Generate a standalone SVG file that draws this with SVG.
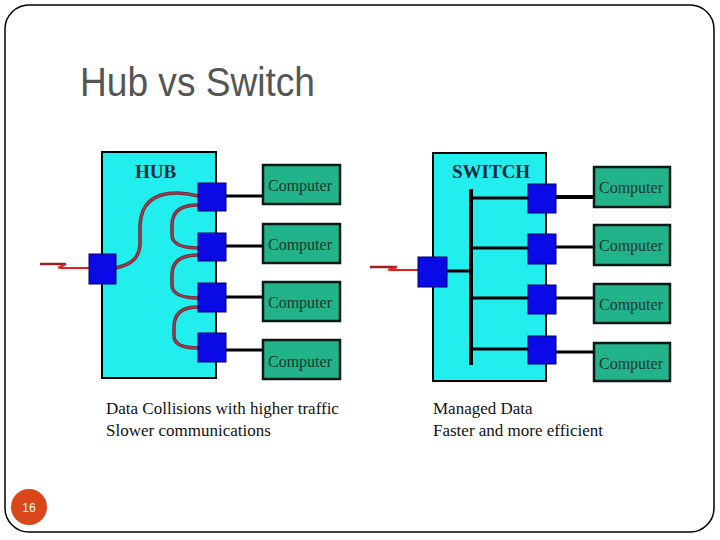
<svg xmlns="http://www.w3.org/2000/svg" width="720" height="540" viewBox="0 0 720 540">
<style>
.box{fill:#22eeee;stroke:#000;stroke-width:2}
.port{fill:#0a0ae6;stroke:#00006a;stroke-width:1}
.pc{fill:#22b38a;stroke:#0a1a14;stroke-width:2.5}
.pct{font-family:"Liberation Serif",serif;font-size:16px;fill:#173a2e}
.lbl{font-family:"Liberation Serif",serif;font-size:19px;font-weight:bold;fill:#0d2b3a}
.cap{font-family:"Liberation Serif",serif;font-size:17px;fill:#111}
.wire{stroke:#000;stroke-width:3;fill:none}
.bus{stroke:#000;stroke-width:4;fill:none}
.curve{stroke:#6a3040;stroke-width:3.5;fill:none}
.curve2{stroke:#a83a4a;stroke-width:1.5;fill:none}
.arrA{stroke:#9a2020;stroke-width:2.5;fill:none}
.arrB{stroke:#e52020;stroke-width:2;fill:none}
</style>
<rect x="0" y="0" width="720" height="540" fill="#fff"/>
<rect x="5" y="5" width="709" height="527" rx="24" ry="24" fill="none" stroke="#000" stroke-width="1.5"/>
<text x="80" y="96" font-family="Liberation Sans,Arial,sans-serif" font-size="40" fill="#555" textLength="235" lengthAdjust="spacingAndGlyphs">Hub vs Switch</text>

<g id="hub">
<rect class="box" x="102" y="152" width="114" height="226"/>
<text class="lbl" x="135" y="178">HUB</text>
</g>
<g id="switch">
<rect class="box" x="433" y="153" width="113" height="228"/>
<text class="lbl" x="452" y="178">SWITCH</text>
</g>

<g id="connectors">
<!-- hub -->
<line class="wire" x1="226" y1="196" x2="263" y2="196"/>
<line class="wire" x1="226" y1="246" x2="263" y2="246"/>
<line class="wire" x1="226" y1="297" x2="263" y2="297"/>
<line class="wire" x1="226" y1="350" x2="263" y2="350"/>
<path class="curve" d="M116,268 C132,264 139,258 140,245 L140,225 C141,205 152,193 177,193 C188,193 194,195 198,196"/>
<path class="curve" d="M198,205 C180,205 172,212 172,225 L172,235 C172,245 185,248 198,248"/>
<path class="curve" d="M198,255 C180,255 172,262 172,275 L172,285 C172,295 185,298 198,298"/>
<path class="curve" d="M198,307 C182,307 174,314 174,327 L174,336 C174,346 186,348 198,348"/>
<path class="curve2" d="M116,268 C132,264 139,258 140,245 L140,225 C141,205 152,193 177,193 C188,193 194,195 198,196"/>
<path class="curve2" d="M198,205 C180,205 172,212 172,225 L172,235 C172,245 185,248 198,248"/>
<path class="curve2" d="M198,255 C180,255 172,262 172,275 L172,285 C172,295 185,298 198,298"/>
<path class="curve2" d="M198,307 C182,307 174,314 174,327 L174,336 C174,346 186,348 198,348"/>
<path class="arrA" d="M40,264 L66,264"/>
<path class="arrB" d="M60,268 L104,268"/>
<path class="arrB" d="M58,268 L66,264"/>
<!-- switch -->
<line class="bus" x1="471" y1="189" x2="471" y2="365"/>
<line class="wire" x1="447" y1="271" x2="471" y2="271"/>
<line class="wire" x1="471" y1="198" x2="530" y2="198"/>
<line class="wire" x1="471" y1="248" x2="530" y2="248"/>
<line class="wire" x1="471" y1="298" x2="530" y2="298"/>
<line class="wire" x1="471" y1="349" x2="530" y2="349"/>
<line class="bus" x1="556" y1="197" x2="594" y2="197"/>
<line class="wire" x1="556" y1="247" x2="594" y2="247"/>
<line class="wire" x1="556" y1="298" x2="594" y2="298"/>
<line class="wire" x1="556" y1="352" x2="594" y2="352"/>
<path class="arrA" d="M370,267 L397,267"/>
<path class="arrB" d="M390,270 L433,270"/>
<path class="arrB" d="M388,270 L397,267"/>
</g>

<g id="hub-ports">
<rect class="port" x="89" y="254" width="27" height="30"/>
<rect class="port" x="198" y="183" width="28" height="28"/>
<rect class="port" x="198" y="233" width="28" height="28"/>
<rect class="port" x="198" y="283" width="28" height="29"/>
<rect class="port" x="198" y="333" width="28" height="29"/>
</g>
<g id="switch-ports">
<rect class="port" x="418" y="257" width="29" height="30"/>
<rect class="port" x="528" y="184" width="28" height="29"/>
<rect class="port" x="528" y="234" width="28" height="30"/>
<rect class="port" x="528" y="285" width="28" height="29"/>
<rect class="port" x="528" y="336" width="28" height="28"/>
</g>

<g id="hub-computers">
<g id="hpc1"><rect class="pc" x="263" y="165" width="77" height="39"/><text class="pct" x="268" y="191">Computer</text></g>
<g id="hpc2"><rect class="pc" x="263" y="224" width="77" height="39"/><text class="pct" x="268" y="250">Computer</text></g>
<g id="hpc3"><rect class="pc" x="263" y="282" width="77" height="39"/><text class="pct" x="268" y="308">Computer</text></g>
<g id="hpc4"><rect class="pc" x="263" y="340" width="77" height="39"/><text class="pct" x="268" y="367">Computer</text></g>
</g>
<g id="switch-computers">
<g id="spc1"><rect class="pc" x="594" y="167" width="76" height="40"/><text class="pct" x="599" y="193">Computer</text></g>
<g id="spc2"><rect class="pc" x="594" y="225" width="76" height="40"/><text class="pct" x="599" y="251">Computer</text></g>
<g id="spc3"><rect class="pc" x="594" y="284" width="76" height="39"/><text class="pct" x="599" y="310">Computer</text></g>
<g id="spc4"><rect class="pc" x="594" y="343" width="76" height="38"/><text class="pct" x="599" y="369">Computer</text></g>
</g>

<g id="captions">
<text class="cap" x="106" y="414">Data Collisions with higher traffic</text>
<text class="cap" x="106" y="436">Slower communications</text>
<text class="cap" x="433" y="414">Managed Data</text>
<text class="cap" x="433" y="436">Faster and more efficient</text>
</g>

<g id="page-number">
<circle cx="29" cy="507" r="18" fill="#d9461a"/>
<text x="29" y="511.5" font-family="Liberation Sans,Arial,sans-serif" font-size="12" fill="#fff" text-anchor="middle">16</text>
</g>
</svg>
